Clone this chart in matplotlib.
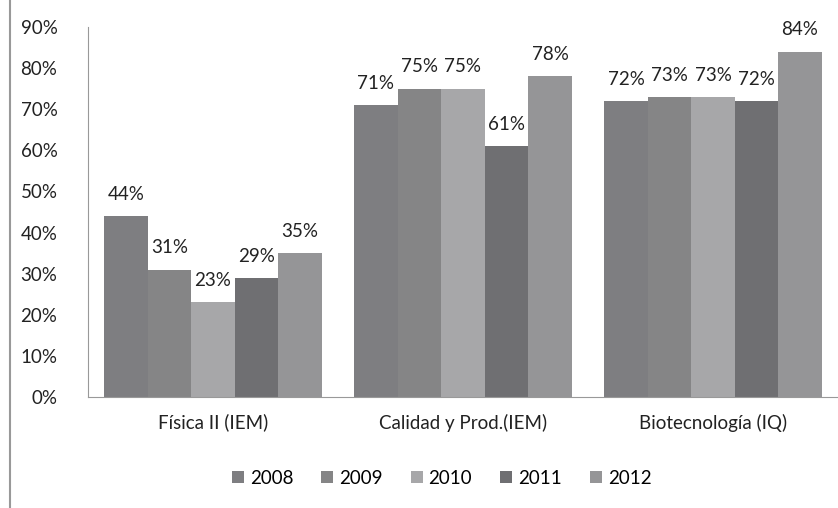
import numpy as np
import matplotlib.pyplot as plt
from matplotlib.lines import Line2D

categories = ['Física II (IEM)', 'Calidad y Prod.(IEM)', 'Biotecnología (IQ)']
years = ['2008', '2009', '2010', '2011', '2012']
values = {
    '2008': [44, 71, 72],
    '2009': [31, 75, 73],
    '2010': [23, 75, 73],
    '2011': [29, 61, 72],
    '2012': [35, 78, 84],
}
colors = ['#7e7e81', '#858586', '#a7a7a9', '#6f6f72', '#959597']

plt.rcParams['font.family'] = ['Lato', 'DejaVu Sans']
fs = 13.5

fig = plt.figure(figsize=(8.38, 5.08), dpi=100)
ax = fig.add_axes([0.105, 0.2185, 0.895, 0.7285])

x = np.arange(len(categories))
width = 0.174
for i, yr in enumerate(years):
    pos = x + (i - 2) * width
    bars = ax.bar(pos, values[yr], width, color=colors[i], label=yr)
    for b, v in zip(bars, values[yr]):
        ax.text(b.get_x() + b.get_width() / 2, v + 3.2, f'{v}%',
                ha='center', va='bottom', fontsize=fs, color='#222222')

ax.set_xlim(-0.5, 2.5)
ax.set_ylim(0, 90)
ax.set_yticks(range(0, 91, 10))
ax.set_yticklabels([f'{t}%' for t in range(0, 91, 10)], fontsize=fs, color='#222222')
ax.set_xticks(x)
ax.set_xticklabels(categories, fontsize=fs, color='#222222')
ax.tick_params(axis='x', length=0, pad=12)
ax.tick_params(axis='y', length=0, pad=22)
for s in ['top', 'right']:
    ax.spines[s].set_visible(False)
ax.spines['left'].set_color('#999999')
ax.spines['bottom'].set_color('#999999')

fig.legend(loc='center', bbox_to_anchor=(0.527, 0.059), ncol=5, frameon=False,
           fontsize=fs, handlelength=0.65, handleheight=0.65, handletextpad=0.3,
           columnspacing=1.5)

fig.add_artist(Line2D([0.012, 0.012], [0.0, 1.0], color='#999999', lw=1.5,
                      transform=fig.transFigure))

fig.savefig('out.png', dpi=100)
